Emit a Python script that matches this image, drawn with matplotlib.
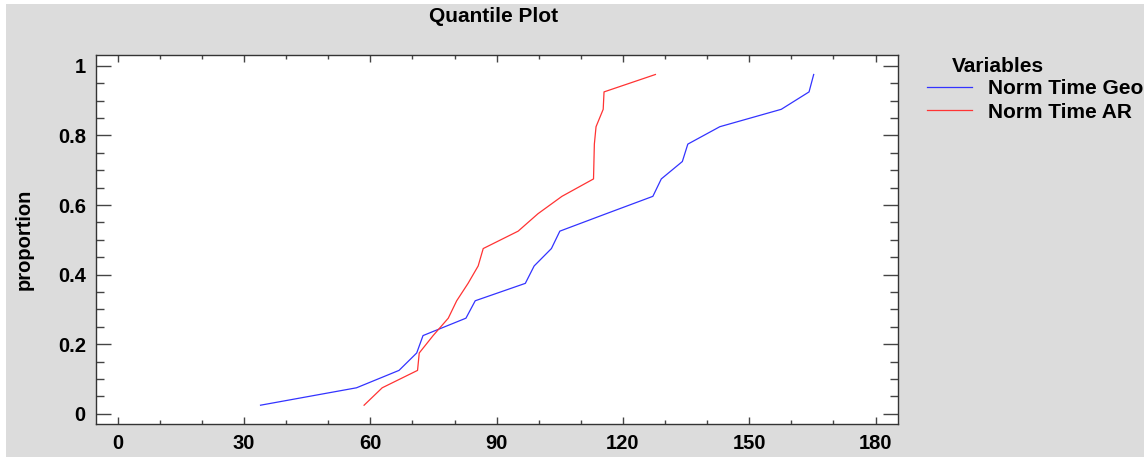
import numpy as np
import matplotlib.pyplot as plt
from matplotlib.patches import Rectangle
from matplotlib.ticker import MultipleLocator

plt.rcParams['font.family'] = ['Liberation Sans', 'DejaVu Sans']
plt.rcParams['font.weight'] = 'bold'

# proportions (i - 0.5) / n, n = 20
proportion = [0.025, 0.075, 0.125, 0.175, 0.225, 0.275, 0.325, 0.375, 0.425, 0.475,
              0.525, 0.575, 0.625, 0.675, 0.725, 0.775, 0.825, 0.875, 0.925, 0.975]

norm_time_geo = [33.9, 56.7, 66.8, 71.0, 72.5, 82.7, 84.9, 96.8, 98.9, 103.0,
                 105.0, 116.0, 127.1, 129.1, 134.1, 135.4, 143.0, 157.6, 164.2, 165.3]

norm_time_ar = [58.5, 62.8, 71.2, 71.6, 74.9, 78.5, 80.5, 83.2, 85.6, 86.8,
                95.1, 99.8, 105.5, 113.0, 113.1, 113.2, 113.6, 115.3, 115.5, 127.7]

x_ticks = [0, 30, 60, 90, 120, 150, 180]
y_ticks = [0, 0.2, 0.4, 0.6, 0.8, 1]

fig = plt.figure(figsize=(11.44, 4.57), dpi=100, facecolor='white')
# grey panel background (thin white strip at left/top like the original)
fig.patches.append(Rectangle((6 / 1144, 0), 1, 453 / 457, transform=fig.transFigure,
                             facecolor='#dcdcdc', edgecolor='none', zorder=-10))

ax = fig.add_axes([95.5 / 1144, 1 - 424 / 457, (898.3 - 95.5) / 1144, (424 - 55) / 457])
ax.set_facecolor('white')

ax.plot(norm_time_geo, proportion, color='#3333ff', linewidth=0.9, label='Norm Time Geo')
ax.plot(norm_time_ar, proportion, color='#ff3333', linewidth=0.9, label='Norm Time AR')

ax.set_xlim(-5.3, 185.4)
ax.set_ylim(-0.029, 1.031)
ax.set_xticks(x_ticks)
ax.set_yticks(y_ticks)
ax.set_yticklabels(['0', '0.2', '0.4', '0.6', '0.8', '1'])
ax.xaxis.set_minor_locator(MultipleLocator(10))
ax.yaxis.set_minor_locator(MultipleLocator(0.05))

ax.tick_params(axis='both', which='both', direction='in', top=True, right=True,
               color='#444444', labelsize=14.5)
ax.tick_params(axis='y', which='major', length=11, width=1, pad=7)
ax.tick_params(axis='y', which='minor', length=5.5, width=1)
ax.tick_params(axis='x', which='major', length=5, width=1, pad=7)
ax.tick_params(axis='x', which='minor', length=3, width=1)
for lab in ax.get_xticklabels() + ax.get_yticklabels():
    lab.set_fontweight('bold')

for sp in ax.spines.values():
    sp.set_color('#333333')
    sp.set_linewidth(1)

ax.set_ylabel('proportion', fontsize=14.5, fontweight='bold', labelpad=17)
fig.text(494 / 1144, 1 - 17 / 457, 'Quantile Plot', ha='center', va='center',
         fontsize=15, fontweight='bold')

# legend outside on the right
fig.text(952 / 1144, 1 - 66 / 457, 'Variables', ha='left', va='center',
         fontsize=15, fontweight='bold')
leg = ax.legend(loc='upper left', bbox_to_anchor=(927 / 1144, 1 - 79 / 457),
                bbox_transform=fig.transFigure, frameon=False, fontsize=15,
                handlelength=2.15, handletextpad=0.8, labelspacing=0.22,
                borderpad=0, borderaxespad=0)
for t in leg.get_texts():
    t.set_fontweight('bold')

fig.savefig('out.png', dpi=100, facecolor=fig.get_facecolor())
